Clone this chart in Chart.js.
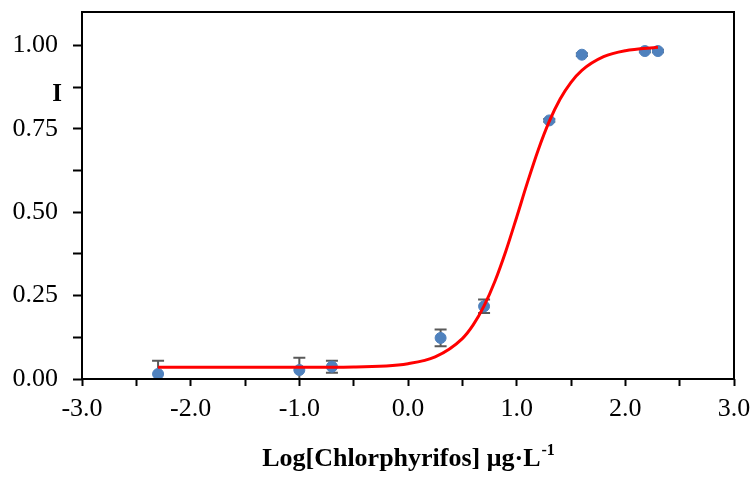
<!DOCTYPE html>
<html>
<head>
<meta charset="utf-8">
<script src="https://cdn.jsdelivr.net/npm/chart.js@4"></script>
<style>
html, body { margin: 0; padding: 0; background: #fff; }
#wrap { width: 756px; height: 480px; }
</style>
</head>
<body>
<div id="wrap"><canvas id="chart"></canvas></div>
<script>
// measured points (log concentration vs inhibition) with error
const logConc = [-2.3, -1.0, -0.7, 0.3, 0.7, 1.3, 1.6, 2.18, 2.3];
const inhibition = [0.015, 0.027, 0.037, 0.123, 0.218, 0.775, 0.972, 0.983, 0.983];
const inhibitionErr = [0.040, 0.037, 0.018, 0.025, 0.020, 0.004, 0.004, 0.004, 0.004];

// fitted curve
const fitX = [-2.3, -1.5, -1.0, -0.5, 0.0, 0.25, 0.5, 0.6, 0.7, 0.8, 0.9, 1.0, 1.1, 1.2, 1.3, 1.4, 1.5, 1.6, 1.8, 2.0, 2.3];
const fitY = [0.035, 0.035, 0.035, 0.036, 0.046, 0.066, 0.121, 0.162, 0.219, 0.293, 0.383, 0.485, 0.590, 0.688, 0.772, 0.839, 0.889, 0.925, 0.966, 0.984, 0.994];

// axis ticks
const xTicks = [-3, -2.5, -2, -1.5, -1, -0.5, 0, 0.5, 1, 1.5, 2, 2.5, 3];
const yTicks = [0, 0.125, 0.25, 0.375, 0.5, 0.625, 0.75, 0.875, 1.0];

const xTitle = 'Log[Chlorphyrifos] μg·L';
const xTitleSup = '-1';
const yTitle = 'I';

const FONT = "'Liberation Serif', 'Times New Roman', serif";

// error bars, frame and axis titles
const extras = {
    id: 'extras',
    beforeDatasetsDraw(chart) {
        const { ctx, chartArea, scales } = chart;
        ctx.save();
        ctx.beginPath();
        ctx.rect(chartArea.left, chartArea.top, chartArea.right - chartArea.left, chartArea.bottom - chartArea.top);
        ctx.clip();
        ctx.strokeStyle = '#595959';
        ctx.lineWidth = 2;
        logConc.forEach((x, i) => {
            const px = scales.x.getPixelForValue(x);
            const top = scales.y.getPixelForValue(inhibition[i] + inhibitionErr[i]);
            const bot = scales.y.getPixelForValue(inhibition[i] - inhibitionErr[i]);
            ctx.beginPath();
            ctx.moveTo(px, top); ctx.lineTo(px, bot);
            ctx.moveTo(px - 6, top); ctx.lineTo(px + 6, top);
            ctx.moveTo(px - 6, bot); ctx.lineTo(px + 6, bot);
            ctx.stroke();
        });
        ctx.restore();
    },
    afterDraw(chart) {
        const { ctx, chartArea } = chart;
        ctx.save();
        ctx.strokeStyle = '#000';
        ctx.lineWidth = 2;
        ctx.strokeRect(chartArea.left, chartArea.top, chartArea.right - chartArea.left, chartArea.bottom - chartArea.top);

        ctx.fillStyle = '#000';
        ctx.textBaseline = 'alphabetic';
        ctx.font = 'bold 26px ' + FONT;
        const w1 = ctx.measureText(xTitle).width;
        ctx.font = 'bold 16px ' + FONT;
        const w2 = ctx.measureText(xTitleSup).width;
        const cx = (chartArea.left + chartArea.right) / 2;
        let x0 = cx - (w1 + w2) / 2;
        ctx.textAlign = 'left';
        ctx.font = 'bold 26px ' + FONT;
        ctx.fillText(xTitle, x0, 466);
        ctx.font = 'bold 16px ' + FONT;
        ctx.fillText(xTitleSup, x0 + w1 + 1, 455);

        ctx.font = 'bold 25px ' + FONT;
        ctx.textAlign = 'center';
        ctx.textBaseline = 'middle';
        ctx.fillText(yTitle, 57, 95);
        ctx.restore();
    }
};

new Chart(document.getElementById('chart'), {
    type: 'scatter',
    data: {
        datasets: [
            {
                label: 'fit',
                data: fitX.map((x, i) => ({ x: x, y: fitY[i] })),
                showLine: true,
                borderColor: '#ff0000',
                borderWidth: 3,
                pointRadius: 0,
                cubicInterpolationMode: 'monotone'
            },
            {
                label: 'data',
                data: logConc.map((x, i) => ({ x: x, y: inhibition[i] })),
                pointRadius: 5.5,
                pointBackgroundColor: '#4f81bd',
                pointBorderColor: '#4f81bd',
                pointBorderWidth: 1
            }
        ]
    },
    options: {
        responsive: true,
        maintainAspectRatio: false,
        animation: false,
        layout: { padding: { top: 12, right: 22, left: 0, bottom: 0 } },
        plugins: {
            legend: { display: false },
            tooltip: { enabled: false }
        },
        scales: {
            x: {
                type: 'linear',
                min: -3,
                max: 3,
                afterBuildTicks: (scale) => { scale.ticks = xTicks.map(v => ({ value: v })); },
                afterFit: (scale) => {
                    scale.height = 101;
                    scale.paddingLeft = 0;
                    scale.paddingRight = 0;
                },
                grid: { drawOnChartArea: false, tickLength: 7, tickWidth: 2, tickColor: '#000' },
                border: { display: false },
                ticks: {
                    autoSkip: false,
                    maxRotation: 0,
                    padding: 8,
                    color: '#000',
                    font: { family: FONT, size: 26 },
                    callback: (v) => Math.abs(v - Math.round(v)) < 1e-9 ? v.toFixed(1) : ''
                }
            },
            y: {
                type: 'linear',
                min: 0,
                max: 1.1,
                afterBuildTicks: (scale) => { scale.ticks = yTicks.map(v => ({ value: v })); },
                afterFit: (scale) => {
                    scale.width = 82;
                    scale.paddingTop = 0;
                    scale.paddingBottom = 0;
                },
                grid: { drawOnChartArea: false, tickLength: 9, tickWidth: 2, tickColor: '#000' },
                border: { display: false },
                ticks: {
                    autoSkip: false,
                    padding: 15,
                    color: '#000',
                    font: { family: FONT, size: 26 },
                    callback: (v) => Math.abs(v * 4 - Math.round(v * 4)) < 1e-9 ? v.toFixed(2) : ''
                }
            }
        }
    },
    plugins: [extras]
});
</script>
</body>
</html>
